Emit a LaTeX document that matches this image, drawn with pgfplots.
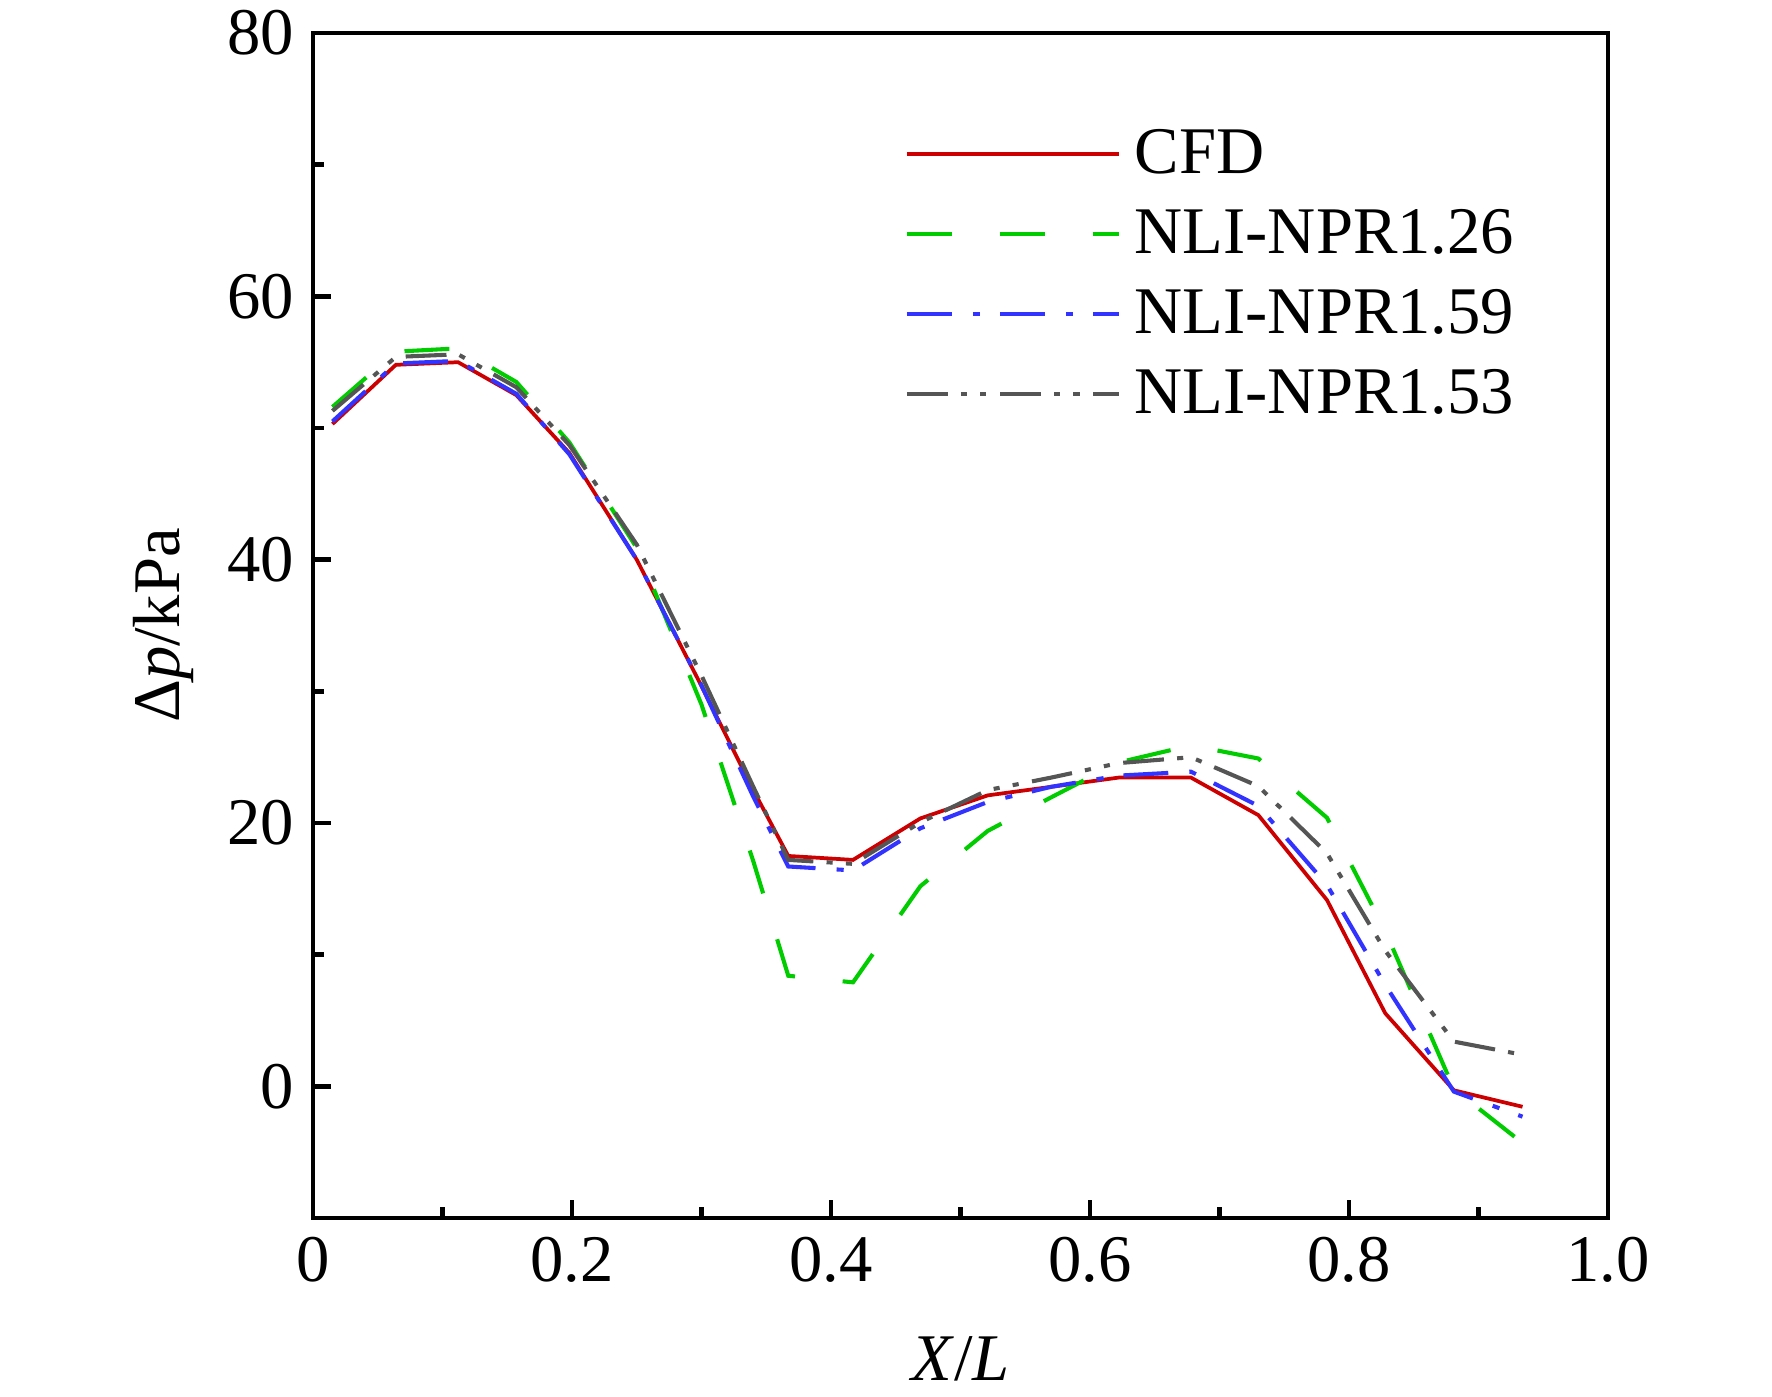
\documentclass[border=0pt]{standalone}
\usepackage{fontspec}
\setmainfont{Liberation Serif}
\usepackage{pgfplots}
\pgfplotsset{compat=1.18}
\definecolor{cfdred}{RGB}{204,0,0}
\definecolor{nligreen}{RGB}{0,204,0}
\definecolor{nliblue}{RGB}{51,51,255}
\definecolor{nligrey}{RGB}{85,85,85}
\begin{document}
\begin{tikzpicture}
\useasboundingbox (-92.06pt,-52.35pt) rectangle (429.12pt,358.24pt);
\begin{axis}[
  scale only axis,
  width=380.88pt, height=348.53pt,
  xmin=0, xmax=1, ymin=-10, ymax=80,
  xtick={0,0.2,0.4,0.6,0.8,1.0},
  xticklabels={0,0.2,0.4,0.6,0.8,1.0},
  minor xtick={0.1,0.3,0.5,0.7,0.9},
  ytick={0,20,40,60,80},
  minor ytick={10,30,50,70},
  xtick pos=left, ytick pos=left,
  tick align=inside,
  major tick length=5.3pt, minor tick length=3.2pt,
  every tick/.style={black, line width=1.3pt},
  axis line style={line width=1.3pt, black},
  /pgf/number format/assume math mode=true,
  font=\fontsize{19.6}{23.5}\selectfont,
  tick label style={font=\fontsize{19.6}{23.5}\selectfont},
  yticklabel style={xshift=-2pt},
  xticklabel style={yshift=-2pt},
  xlabel={\textit{X}/\textit{L}},
  ylabel={Δ\textit{p}/kPa},
  xlabel style={at={(axis description cs:0.5,-0.1367)}, anchor=base, font=\fontsize{19.6}{23.5}\selectfont},
  ylabel style={at={(axis description cs:-0.1027,0.5)}, anchor=base, font=\fontsize{19.6}{23.5}\selectfont},
  legend cell align=left,
  legend image code/.code={\draw[#1] (0pt,0pt) -- (62.4pt,0pt);},
  legend style={draw=none, fill=none, at={(axis description cs:0.4565,0.9224)}, anchor=north west,
    inner sep=0pt, row sep=7.1pt, column sep=4pt,
    font=\fontsize{19.6}{23.5}\selectfont,
    nodes={inner sep=0pt, text height=14pt, text depth=2.5pt}},
]
\addplot[cfdred, line width=1.1pt] coordinates {
(0.015,50.3) (0.064,54.8) (0.112,55.0) (0.157,52.5) (0.198,48.1) (0.25,40.0)
(0.30,30.4) (0.34,22.5) (0.367,17.5) (0.417,17.2) (0.469,20.35) (0.521,22.1)
(0.57,22.75) (0.622,23.45) (0.678,23.45) (0.730,20.6) (0.783,14.15) (0.828,5.55)
(0.881,-0.3) (0.934,-1.55)};
\addlegendentry{CFD}
\addplot[nligreen, line width=1.2pt, dash pattern=on 13.2pt off 14.1pt] coordinates {
(0.015,51.6) (0.064,55.8) (0.112,56.05) (0.157,53.5) (0.198,48.9) (0.25,40.9)
(0.30,29.0) (0.34,17.1) (0.367,8.4) (0.417,7.9) (0.469,15.2) (0.521,19.4)
(0.57,21.95) (0.622,24.6) (0.678,25.9) (0.730,24.9) (0.783,20.4) (0.828,11.8)
(0.881,-0.2) (0.934,-4.3)};
\addlegendentry{NLI-NPR1.26}
\addplot[nliblue, line width=1.2pt, dash pattern=on 13.2pt off 6.2pt on 2.1pt off 5.9pt] coordinates {
(0.015,50.5) (0.064,54.9) (0.112,55.1) (0.157,52.6) (0.198,48.0) (0.25,40.0)
(0.30,30.45) (0.34,22.0) (0.367,16.7) (0.417,16.4) (0.469,19.6) (0.521,21.6)
(0.57,22.75) (0.622,23.6) (0.678,23.9) (0.730,21.3) (0.783,15.3) (0.828,7.7)
(0.881,-0.4) (0.934,-2.3)};
\addlegendentry{NLI-NPR1.59}
\addplot[nligrey, line width=1.2pt, dash pattern=on 12pt off 3.9pt on 1.8pt off 3.9pt on 1.8pt off 4pt] coordinates {
(0.015,51.3) (0.064,55.4) (0.112,55.6) (0.157,53.1) (0.198,48.7) (0.25,41.15)
(0.30,31.2) (0.34,22.75) (0.367,17.2) (0.417,16.9) (0.469,20.05) (0.521,22.5)
(0.57,23.45) (0.622,24.55) (0.678,25.0) (0.730,22.8) (0.783,17.7) (0.828,10.3)
(0.881,3.4) (0.934,2.4)};
\addlegendentry{NLI-NPR1.53}
\end{axis}
\end{tikzpicture}
\end{document}
